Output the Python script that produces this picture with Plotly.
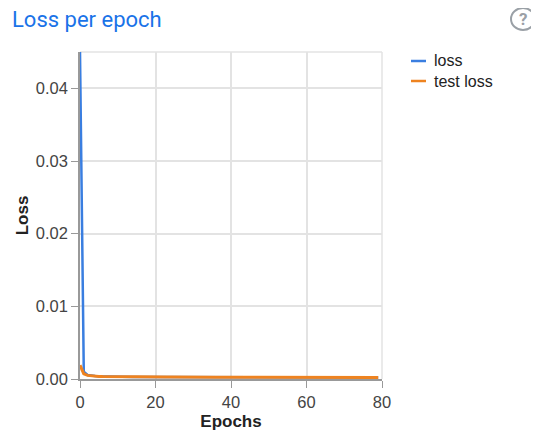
import plotly.graph_objects as go

epochs = list(range(80))

loss = [0.0450, 0.00100, 0.00055, 0.00045, 0.00040, 0.00037, 0.00035, 0.00033, 0.00032, 0.00031,
        0.00030, 0.00030, 0.00029, 0.00029, 0.00028, 0.00028, 0.00028, 0.00027, 0.00027, 0.00027,
        0.00026, 0.00026, 0.00026, 0.00026, 0.00025, 0.00025, 0.00025, 0.00025, 0.00025, 0.00024,
        0.00024, 0.00024, 0.00024, 0.00024, 0.00024, 0.00023, 0.00023, 0.00023, 0.00023, 0.00023,
        0.00023, 0.00023, 0.00022, 0.00022, 0.00022, 0.00022, 0.00022, 0.00022, 0.00022, 0.00022,
        0.00022, 0.00021, 0.00021, 0.00021, 0.00021, 0.00021, 0.00021, 0.00021, 0.00021, 0.00021,
        0.00021, 0.00021, 0.00020, 0.00020, 0.00020, 0.00020, 0.00020, 0.00020, 0.00020, 0.00020,
        0.00020, 0.00020, 0.00020, 0.00020, 0.00020, 0.00020, 0.00019, 0.00019, 0.00019, 0.00019]

test_loss = [0.00190, 0.00070, 0.00050, 0.00042, 0.00038, 0.00036, 0.00034, 0.00033, 0.00032, 0.00031,
             0.00031, 0.00030, 0.00030, 0.00029, 0.00029, 0.00029, 0.00028, 0.00028, 0.00028, 0.00028,
             0.00027, 0.00027, 0.00027, 0.00027, 0.00027, 0.00026, 0.00026, 0.00026, 0.00026, 0.00026,
             0.00026, 0.00025, 0.00025, 0.00025, 0.00025, 0.00025, 0.00025, 0.00025, 0.00025, 0.00024,
             0.00024, 0.00024, 0.00024, 0.00024, 0.00024, 0.00024, 0.00024, 0.00024, 0.00023, 0.00023,
             0.00023, 0.00023, 0.00023, 0.00023, 0.00023, 0.00023, 0.00023, 0.00023, 0.00023, 0.00022,
             0.00022, 0.00022, 0.00022, 0.00022, 0.00022, 0.00022, 0.00022, 0.00022, 0.00022, 0.00022,
             0.00022, 0.00022, 0.00022, 0.00022, 0.00022, 0.00021, 0.00021, 0.00021, 0.00021, 0.00021]

x_ticks = [0, 20, 40, 60, 80]
y_ticks = [0.00, 0.01, 0.02, 0.03, 0.04]
series_names = ["loss", "test loss"]
series_colors = ["#3a7ee0", "#ee8320"]

# the page puts the figure 8px in from the top-left corner of the window
W, H = 531, 427
L, R, T, B = 72, 374, 44, 371


def px(x):
    return (x - L) / (R - L)


def py(y):
    return (B - y) / (B - T)


fig = go.Figure()
fig.add_trace(go.Scatter(x=epochs, y=loss, mode="lines", name=series_names[0],
                         line=dict(color=series_colors[0], width=2.5), showlegend=False))
fig.add_trace(go.Scatter(x=epochs, y=test_loss, mode="lines", name=series_names[1],
                         line=dict(color=series_colors[1], width=3), showlegend=False))

shapes = [
    dict(type="line", xref="paper", yref="paper", x0=0, x1=1, y0=1, y1=1,
         line=dict(color="#e3e3e3", width=1.5), layer="below"),
    dict(type="line", xref="paper", yref="paper", x0=1, x1=1, y0=0, y1=1,
         line=dict(color="#e3e3e3", width=1.5), layer="below"),
    dict(type="circle", xref="paper", yref="paper", x0=px(503), x1=px(527), y0=py(22), y1=py(0),
         line=dict(color="#9aa0a6", width=2)),
]
annotations = [
    dict(text="<b>?</b>", xref="paper", yref="paper", x=px(515), y=py(11), showarrow=False,
         font=dict(family="Roboto", size=17, color="#9aa0a6"), xanchor="center", yanchor="middle"),
]
for i, (name, color) in enumerate(zip(series_names, series_colors)):
    yy = 53 + 20 * i
    shapes.append(dict(type="line", xref="paper", yref="paper", x0=px(403), x1=px(418),
                       y0=py(yy), y1=py(yy), line=dict(color=color, width=2.5)))
    annotations.append(dict(text=name, xref="paper", yref="paper", x=px(424), y=py(yy),
                            showarrow=False, xanchor="left", yanchor="middle",
                            font=dict(family="Liberation Sans, Arial", size=16, color="#222222")))

fig.update_layout(
    width=W, height=H,
    margin=dict(l=L, r=W - R, t=T, b=H - B),
    paper_bgcolor="white", plot_bgcolor="white",
    title=dict(text="Loss per epoch", x=4 / W, xanchor="left", xref="container",
               y=1 - 11 / H, yanchor="middle", yref="container",
               font=dict(family="Roboto", size=22, color="#1a73e8")),
    font=dict(family="Liberation Sans, Arial", size=16.5, color="#444444"),
    shapes=shapes, annotations=annotations,
    xaxis=dict(range=[0, 80], tickvals=x_ticks, ticks="outside", ticklen=7, tickcolor="#999999",
               showline=True, linecolor="#999999", linewidth=1.5, automargin=False,
               showgrid=True, gridcolor="#e3e3e3", gridwidth=1.5, zeroline=False,
               title=dict(text="<b>Epochs</b>", standoff=6, font=dict(size=17, color="#222222"))),
    yaxis=dict(range=[0, 0.045], tickvals=y_ticks, tickformat=".2f", ticks="outside", ticklen=7,
               tickcolor="#999999", showline=True, linecolor="#999999", linewidth=1.5, automargin=False,
               showgrid=True, gridcolor="#e3e3e3", gridwidth=1.5, zeroline=False,
               title=dict(text="<b>Loss</b>", standoff=3, font=dict(size=17, color="#222222"))),
)

fig.write_html("out.html")
